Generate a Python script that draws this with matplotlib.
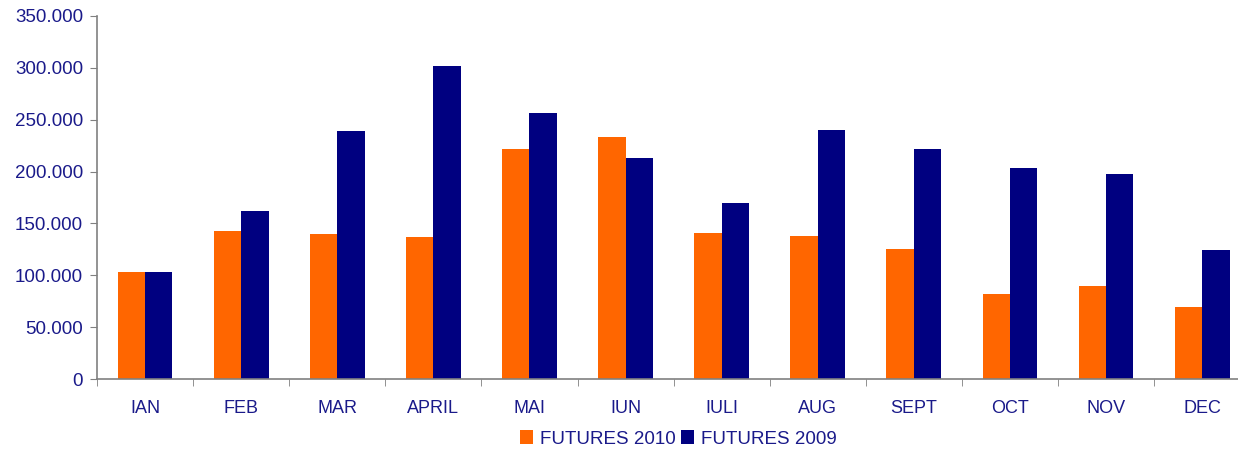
import numpy as np
import matplotlib.pyplot as plt
import matplotlib.ticker as ticker

months = ['IAN', 'FEB', 'MAR', 'APRIL', 'MAI', 'IUN', 'IULI', 'AUG', 'SEPT', 'OCT', 'NOV', 'DEC']
futures_2010 = [103000, 142500, 140000, 137000, 222000, 233500, 141000, 138000, 125500, 82000, 90000, 69500]
futures_2009 = [103000, 162000, 239500, 302000, 256500, 213000, 170000, 240000, 222000, 203500, 198000, 124500]

plt.rcParams['font.family'] = ['Liberation Sans', 'DejaVu Sans']
text_color = '#1a1a8a'
orange = '#ff6600'
navy = '#000080'

fig = plt.figure(figsize=(12.38, 4.49), dpi=100)
ax = fig.add_axes([97 / 1238, 1 - 379 / 449, 1 - 97 / 1238, (379 - 16) / 449])

x = np.arange(len(months))
w = 0.285
ax.bar(x - w / 2, futures_2010, width=w, color=orange, label='FUTURES 2010')
ax.bar(x + w / 2, futures_2009, width=w, color=navy, label='FUTURES 2009')

ax.set_xticks(x)
ax.set_xticklabels(months)
ax.set_xticks(np.arange(-0.5, 11, 1), minor=True)

# set limits after ticks so set_xticks does not widen them
ax.set_xlim(-0.5, -0.5 + (1238 - 97) / 96.1)
ax.set_ylim(0, 350000)
ax.yaxis.set_major_locator(ticker.MultipleLocator(50000))
ax.yaxis.set_major_formatter(ticker.FuncFormatter(lambda v, p: '0' if v == 0 else f'{int(v):,}'.replace(',', '.')))

ax.tick_params(axis='x', which='major', length=0, pad=15, labelsize=13, labelcolor=text_color)
ax.tick_params(axis='x', which='minor', length=5, color='#808080', direction='out')
ax.tick_params(axis='y', length=5, color='#808080', labelsize=13.5, labelcolor=text_color, pad=5)

for s in ['top', 'right']:
    ax.spines[s].set_visible(False)
ax.spines['left'].set_color('#808080')
ax.spines['bottom'].set_color('#808080')
ax.spines['left'].set_linewidth(1.2)
ax.spines['bottom'].set_linewidth(1.2)

leg = fig.legend(loc='center', bbox_to_anchor=(0.548, 1 - 439 / 449), ncol=2, frameon=False,
                 fontsize=13.5, handlelength=0.7, handleheight=0.7, handletextpad=0.35, columnspacing=0.3)
for t in leg.get_texts():
    t.set_color(text_color)

fig.savefig('out.png', dpi=100)
